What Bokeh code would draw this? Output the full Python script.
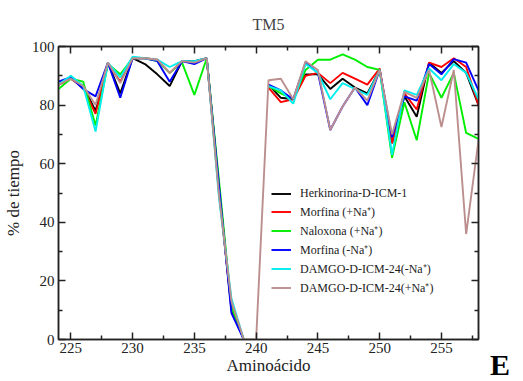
import numpy as np
from bokeh.plotting import figure
from bokeh.layouts import row
from bokeh.models import (LinearAxis, FixedTicker, Range1d, Legend, LegendItem,
                          Div, ColumnDataSource, CustomJSTickFormatter)
from bokeh.embed import file_html
from bokeh.resources import INLINE

nan = float("nan")

residues = list(range(224, 259))

herkinorina = [87, 89, 86.5, 78, 94.5, 84, 96, 94, 90.5, 86.5, 95, 95, 96, 52, 10, 0, nan,
               87, 82.5, 82, 90.5, 90.5, 85.5, 89, 86, 84, 92, 67, 83, 76, 94.5, 91, 95, 91, 80]
morfina_na = [87, 89, 86, 77, 94, 88, 96, 96, 95.5, 91, 95, 94.5, 96, 50, 11, 0, nan,
              86, 81, 82, 90, 91, 87.5, 91, 89, 87, 92.5, 67, 84, 78.5, 94.5, 93, 96, 93, 80]
naloxona_na = [85.5, 89, 88, 73, 94, 90.5, 96, 96, 95, 91, 94.5, 83.5, 96, 54, 11, 0, nan,
               86.5, 84, 82, 92, 95.5, 95.5, 97.3, 95.5, 93, 92, 62, 81, 68, 91, 82.5, 91, 70.5, 68.5]
morfina_sin_na = [88, 89.5, 85.5, 83, 94.5, 82.5, 96, 96, 95, 88, 95, 94, 96, 52, 9, 0, nan,
                  87, 85, 82, 94.5, 91, 71.5, 79.5, 86, 80, 92, 69, 83, 81.5, 94, 90.5, 95.7, 94.5, 85]
damgo_sin_na = [87, 90, 86.5, 71, 94.5, 89.5, 96.5, 96, 95.5, 93, 95, 95, 96, 48, 14, 0, nan,
                86.5, 85, 80.5, 94, 91, 82, 87.5, 85.5, 83.5, 92, 63, 85, 83.5, 92.5, 88.5, 94, 91, 82]
damgo_na = [87, 89, 86.5, 80, 94.5, 87.5, 96, 96, 95.5, 91, 95, 94.5, 96, 49, 13, 0, 0,
            88.5, 89, 82, 95, 92, 71.5, 79.5, 86, 81.5, 92, 70, 84.5, 82.5, 92, 72.5, 92, 36, 68]

series_names = ["Herkinorina-D-ICM-1", "Morfina (+Na\u207a)", "Naloxona (+Na\u207a)",
                "Morfina (-Na\u207a)", "DAMGO-D-ICM-24(-Na\u207a)", "DAMGO-D-ICM-24(+Na\u207a)"]
series_values = [herkinorina, morfina_na, naloxona_na, morfina_sin_na, damgo_sin_na, damgo_na]
series_colors = ["#000000", "#ff0000", "#00ee00", "#0000ff", "#00eeee", "#bc8f8f"]

x_major = [225, 230, 235, 240, 245, 250, 255]
x_minor = [227.5, 232.5, 237.5, 242.5, 247.5, 252.5, 257.5]
y_major = [0, 20, 40, 60, 80, 100]
y_minor = [10, 30, 50, 70, 90]

SERIF = "'Liberation Serif', 'Times New Roman', serif"

p = figure(frame_width=420, frame_height=293, output_backend="svg", toolbar_location=None,
           x_range=Range1d(224, 258), y_range=Range1d(0, 100),
           min_border_left=49, min_border_right=8, min_border_top=46, min_border_bottom=36,
           x_axis_label="Aminoácido", y_axis_label="% de tiempo", title="TM5")

p.title.text_font = SERIF
p.title.text_font_size = "16px"
p.title.text_font_style = "normal"
p.title.text_line_height = 1.0
p.title.align = "center"
p.title.standoff = 27

p.grid.visible = False
p.outline_line_color = "#222222"
p.outline_line_width = 1.5

def style_axis(ax, ticks, minor, show_labels):
    ax.ticker = FixedTicker(ticks=ticks, minor_ticks=minor)
    ax.major_tick_in = 7
    ax.major_tick_out = 0
    ax.minor_tick_in = 4
    ax.minor_tick_out = 0
    ax.axis_line_color = "#222222"
    ax.axis_line_width = 1.5
    ax.major_tick_line_color = "#222222"
    ax.major_tick_line_width = 1.5
    ax.minor_tick_line_color = "#222222"
    ax.minor_tick_line_width = 1.5
    ax.major_label_text_font = SERIF
    ax.major_label_text_color = "#222222"
    ax.axis_label_text_font = SERIF
    ax.axis_label_text_font_style = "normal"
    ax.axis_label_text_font_size = "17px"
    ax.axis_label_text_color = "#222222"
    if show_labels:
        ax.major_label_text_font_size = "15px"
    else:
        ax.formatter = CustomJSTickFormatter(code="return ''")
        ax.major_label_text_font_size = "1px"
        ax.major_label_standoff = 0
        ax.axis_label_standoff = 0

style_axis(p.xaxis[0], x_major, x_minor, True)
style_axis(p.yaxis[0], y_major, y_minor, True)
p.xaxis[0].major_label_standoff = 3
p.xaxis[0].axis_label_standoff = 0
p.yaxis[0].major_label_standoff = 4
p.yaxis[0].axis_label_standoff = 6

top_ax = LinearAxis()
style_axis(top_ax, x_major, x_minor, False)
p.add_layout(top_ax, "above")
right_ax = LinearAxis()
style_axis(right_ax, y_major, y_minor, False)
p.add_layout(right_ax, "right")

items = []
for name, vals, col in zip(series_names, series_values, series_colors):
    src = ColumnDataSource(dict(x=residues, y=vals))
    r = p.line("x", "y", source=src, line_color=col, line_width=1.9)
    items.append(LegendItem(label=name, renderers=[r]))

legend = Legend(items=items, location=(213, 43))
legend.label_text_font = SERIF
legend.label_text_font_size = "12px"
legend.label_text_color = "#222222"
legend.glyph_width = 20
legend.glyph_height = 15
legend.label_height = 15
legend.spacing = 2
legend.padding = 0
legend.margin = 0
legend.label_standoff = 9
legend.border_line_color = None
legend.background_fill_alpha = 0
p.add_layout(legend)

tag = Div(text="E", width=28, height=30, margin=(350, 0, 0, 0),
          styles={"font-family": "'Liberation Serif', 'Times New Roman', serif",
                  "font-size": "30px", "font-weight": "bold", "line-height": "30px",
                  "text-align": "center", "color": "#000000"})

layout = row(p, tag)
open("out.html", "w").write(file_html(layout, INLINE))
